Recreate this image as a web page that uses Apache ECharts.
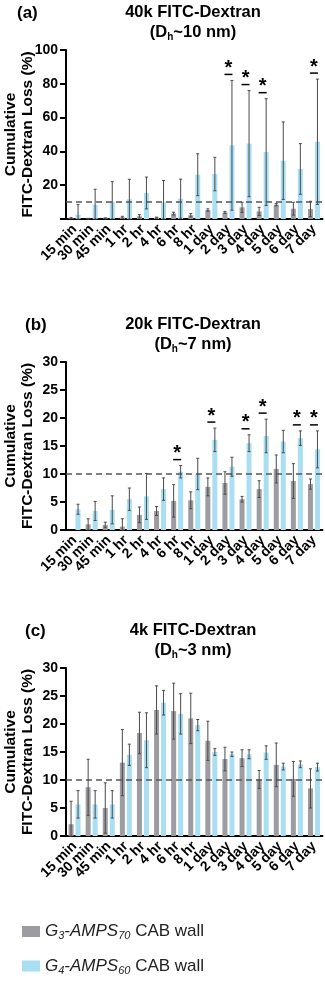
<!DOCTYPE html>
<html>
<head>
<meta charset="utf-8">
<script src="https://cdn.jsdelivr.net/npm/echarts@6/dist/echarts.min.js"></script>
<style>
html, body { margin: 0; padding: 0; background: #fff; }
#chart { width: 325px; height: 981px; }
</style>
</head>
<body>
<div id="chart"></div>
<script>
var categories = ['15 min', '30 min', '45 min', '1 hr', '2 hr', '4 hr', '6 hr', '8 hr',
    '1 day', '2 day', '3 day', '4 day', '5 day', '6 day', '7 day'];

// (a) 40k
var aGrayMean = [0.5, 0.2, 0.4, 1.0, 1.6, 0.8, 3.2, 2.2, 5.3, 3.9, 6.9, 4.5, 8.5, 6.1, 5.9];
var aGrayErr  = [0.3, 0.2, 0.3, 0.6, 1.0, 0.3, 0.8, 1.0, 0.7, 0.6, 3.0, 2.4, 0.7, 3.8, 4.6];
var aBlueMean = [2.5, 8.5, 10.1, 11.7, 15.4, 9.8, 12.0, 26.2, 26.6, 43.6, 44.6, 39.6, 34.5, 29.6, 45.7];
var aBlueErr  = [6.0, 9.1, 12.0, 11.8, 9.4, 13.0, 11.6, 12.4, 9.9, 38.4, 31.4, 31.6, 22.9, 15.0, 37.1];
var aStars = [9, 10, 11, 14];

// (b) 20k
var bGrayMean = [0, 1.0, 0.9, 0.6, 2.7, 3.4, 5.2, 5.3, 7.7, 8.4, 5.5, 7.3, 10.9, 8.75, 8.2];
var bGrayErr  = [0, 1.0, 0.5, 1.4, 1.4, 0.8, 2.9, 1.5, 1.6, 2.0, 0.5, 1.5, 2.5, 3.1, 0.9];
var bBlueMean = [3.7, 3.4, 3.6, 5.5, 6.0, 7.3, 10.4, 10.0, 16.1, 11.3, 15.5, 16.8, 15.8, 16.4, 14.4];
var bBlueErr  = [0.9, 1.7, 2.5, 2.0, 4.1, 2.0, 1.1, 2.8, 2.1, 1.7, 1.5, 3.0, 2.0, 1.3, 3.3];
var bStars = [6, 8, 10, 11, 13, 14];

// (c) 4k
var cGrayMean = [2.1, 8.7, 5.0, 13.1, 18.4, 22.5, 22.3, 21.0, 17.0, 13.75, 13.9, 10.1, 12.7, 10.2, 8.5];
var cGrayErr  = [4.1, 5.0, 4.5, 5.9, 3.7, 4.3, 5.0, 4.5, 3.5, 2.1, 1.5, 1.6, 3.9, 3.1, 3.5];
var cBlueMean = [5.65, 5.65, 5.65, 14.5, 17.1, 23.8, 21.8, 19.8, 15.0, 14.6, 14.6, 14.9, 12.4, 12.8, 12.3];
var cBlueErr  = [2.45, 2.45, 2.45, 1.9, 4.9, 2.2, 3.6, 1.0, 0.6, 0.4, 0.8, 1.2, 0.6, 0.6, 0.7];

var FONT = '"Liberation Sans", Arial, sans-serif';
var GRAY = '#9d9ca1', BLUE = '#a9def3', ERR = '#4a4a4a';
var BAR_W = 5, GAP = 0.4;

var panels = [
    {tag: '(a)', tagLeft: 17, title: '40k FITC-Dextran\n(D{sub|h}~10 nm)', top: 50, height: 169, max: 100, step: 20,
        gm: aGrayMean, ge: aGrayErr, bm: aBlueMean, be: aBlueErr, stars: aStars, hideZero: true},
    {tag: '(b)', tagLeft: 25, title: '20k FITC-Dextran\n(D{sub|h}~7 nm)', top: 362, height: 168, max: 30, step: 5,
        gm: bGrayMean, ge: bGrayErr, bm: bBlueMean, be: bBlueErr, stars: bStars},
    {tag: '(c)', tagLeft: 25, title: '4k FITC-Dextran\n(D{sub|h}~3 nm)', top: 668, height: 168, max: 30, step: 5,
        gm: cGrayMean, ge: cGrayErr, bm: cBlueMean, be: cBlueErr, stars: []}
];

function errRender(side) {
    return function (params, api) {
        var i = api.value(0), m = api.value(1), e = api.value(2);
        if (!e) return;
        var off = side * BAR_W * (1 + GAP) / 2;
        var hi = api.coord([i, m + e]);
        var lo = api.coord([i, Math.max(0, m - e)]);
        var x = hi[0] + off;
        var st = {stroke: ERR, lineWidth: 1};
        return {type: 'group', children: [
            {type: 'line', shape: {x1: x, y1: hi[1], x2: x, y2: lo[1]}, style: st},
            {type: 'line', shape: {x1: x - 1.5, y1: hi[1], x2: x + 1.5, y2: hi[1]}, style: st},
            {type: 'line', shape: {x1: x - 1.5, y1: lo[1], x2: x + 1.5, y2: lo[1]}, style: st}
        ]};
    };
}

function starRender(params, api) {
    var p = api.coord([api.value(0), api.value(1)]);
    var x = p[0], y = p[1];
    return {type: 'group', children: [
        {type: 'line', shape: {x1: x - 4, y1: y - 6, x2: x + 4, y2: y - 6}, style: {stroke: '#000', lineWidth: 1.5}},
        {type: 'text', x: x, y: y - 12, style: {text: '*', fontSize: 20, fontWeight: 'bold', fontFamily: FONT,
            fill: '#000', align: 'center', verticalAlign: 'middle'}}
    ]};
}

var titles = [], grids = [], xAxes = [], yAxes = [], series = [];
panels.forEach(function (p, k) {
    titles.push({text: p.tag, left: p.tagLeft, top: p.top - 47, padding: 0,
        textStyle: {fontFamily: FONT, fontSize: 17, fontWeight: 'bold', color: '#000', lineHeight: 20}});
    titles.push({text: p.title, left: 193, top: p.top - 48, padding: 0, textAlign: 'center',
        textStyle: {fontFamily: FONT, fontSize: 16.5, fontWeight: 'bold', color: '#000', lineHeight: 20,
            rich: {sub: {fontFamily: FONT, fontSize: 10, fontWeight: 'bold', color: '#000', lineHeight: 10, verticalAlign: 'bottom'}}}});
    grids.push({left: 66, top: p.top, width: 256.5, height: p.height, outerBoundsMode: 'none'});
    xAxes.push({type: 'category', gridIndex: k, data: categories,
        axisLine: {lineStyle: {color: '#000', width: 2}},
        axisTick: {alignWithLabel: true, length: 6, lineStyle: {color: '#000', width: 2}},
        axisLabel: {interval: 0, rotate: 45, margin: 8, fontFamily: FONT, fontSize: 14, fontWeight: 'bold', color: '#000'}});
    yAxes.push({type: 'value', gridIndex: k, min: 0, max: p.max, interval: p.step,
        axisLine: {show: true, lineStyle: {color: '#000', width: 2}},
        axisTick: {show: true, length: 6, lineStyle: {color: '#000', width: 2}},
        splitLine: {show: false},
        axisLabel: {margin: 8, fontFamily: FONT, fontSize: 14, fontWeight: 'bold', color: '#000',
            formatter: function (v) { return (p.hideZero && v === 0) ? '' : v; }},
        name: 'Cumulative\nFITC-Dextran Loss (%)', nameLocation: 'middle', nameGap: 30, nameMoveOverlap: false,
        nameTextStyle: {fontFamily: FONT, fontSize: 15.5, fontWeight: 'bold', color: '#000', lineHeight: 17}});

    series.push({name: 'G3', type: 'bar', xAxisIndex: k, yAxisIndex: k, data: p.gm,
        barWidth: BAR_W, barGap: (GAP * 100) + '%', itemStyle: {color: GRAY},
        markLine: {silent: true, symbol: 'none', label: {show: false},
            lineStyle: {color: '#555', type: [6, 4], width: 1.5}, data: [{yAxis: 10}]}});
    series.push({name: 'G4', type: 'bar', xAxisIndex: k, yAxisIndex: k, data: p.bm,
        barWidth: BAR_W, itemStyle: {color: BLUE}});
    series.push({type: 'custom', xAxisIndex: k, yAxisIndex: k, z: 5, renderItem: errRender(-1),
        data: p.gm.map(function (m, i) { return [i, m, p.ge[i]]; })});
    series.push({type: 'custom', xAxisIndex: k, yAxisIndex: k, z: 5, renderItem: errRender(1),
        data: p.bm.map(function (m, i) { return [i, m, p.be[i]]; })});
    series.push({type: 'custom', xAxisIndex: k, yAxisIndex: k, z: 6, renderItem: starRender,
        data: p.stars.map(function (i) { return [i, p.bm[i] + p.be[i]]; })});
});

var myChart = echarts.init(document.getElementById('chart'));
var option = {
    backgroundColor: '#fff',
    animation: false,
    title: titles,
    legend: {
        orient: 'vertical', left: 17, top: 918, itemWidth: 18, itemHeight: 11, itemGap: 16,
        icon: 'rect', data: ['G3', 'G4'],
        formatter: function (name) {
            return name === 'G3'
                ? '{i|G}{s|3}{i|-AMPS}{s|70}{n| CAB wall}'
                : '{i|G}{s|4}{i|-AMPS}{s|60}{n| CAB wall}';
        },
        textStyle: {fontFamily: FONT, fontSize: 17, color: '#222',
            rich: {
                i: {fontFamily: FONT, fontSize: 17, fontStyle: 'italic', color: '#222', lineHeight: 20},
                s: {fontFamily: FONT, fontSize: 11, fontStyle: 'italic', color: '#222', lineHeight: 10, verticalAlign: 'bottom'},
                n: {fontFamily: FONT, fontSize: 17, color: '#222', lineHeight: 20}
            }}
    },
    grid: grids,
    xAxis: xAxes,
    yAxis: yAxes,
    series: series
};
myChart.setOption(option);
</script>
</body>
</html>
